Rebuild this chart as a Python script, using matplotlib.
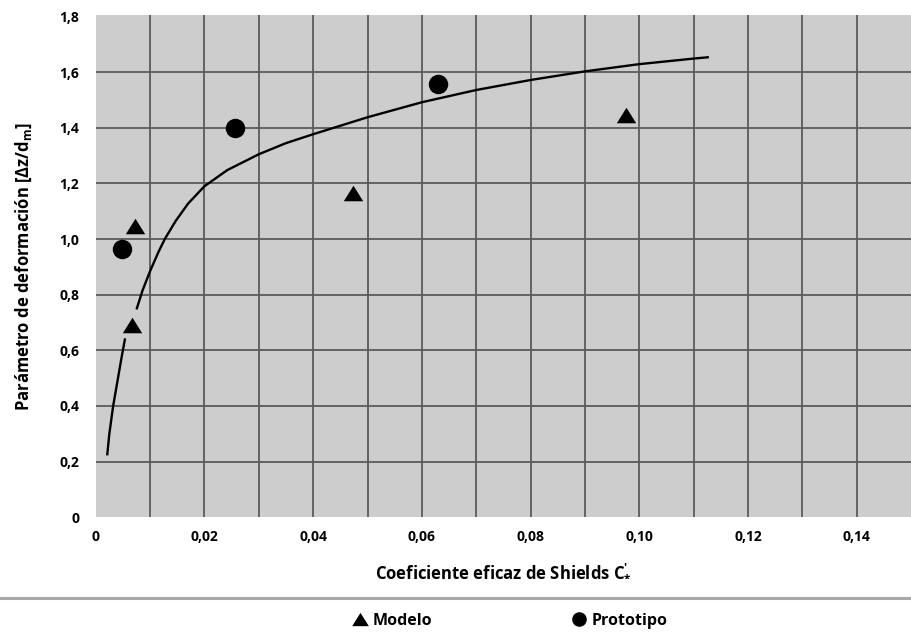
import matplotlib
matplotlib.use("Agg")
import matplotlib.pyplot as plt
from matplotlib.lines import Line2D

plt.rcParams["font.family"] = ["Open Sans", "DejaVu Sans"]
plt.rcParams["font.weight"] = "bold"
plt.rcParams["axes.labelweight"] = "bold"
plt.rcParams["mathtext.fontset"] = "custom"
plt.rcParams["mathtext.rm"] = "Open Sans:bold"
plt.rcParams["mathtext.it"] = "Open Sans:bold"
plt.rcParams["mathtext.bf"] = "Open Sans:bold"

modelo_x = [0.0072, 0.0066, 0.0473, 0.0976]
modelo_y = [1.046, 0.69, 1.167, 1.447]
proto_x = [0.0048, 0.0257, 0.0630]
proto_y = [0.963, 1.40, 1.557]

# fitted curve (nan = gap where the line stops at the marker)
nan = float("nan")
curve_x = [0.0021, 0.0025, 0.0032, 0.0040, 0.0048, 0.0054, nan,
           0.0075, 0.0086, 0.0100, 0.0115, 0.0127, 0.0147, 0.0170, 0.0200,
           0.0242, 0.0300, 0.0350, 0.0400, 0.0500, 0.0600, 0.0700, 0.0800,
           0.0900, 0.1000, 0.1100, 0.1128]
curve_y = [0.222, 0.300, 0.400, 0.490, 0.580, 0.643, nan,
           0.747, 0.815, 0.885, 0.952, 1.000, 1.065, 1.128, 1.190,
           1.248, 1.305, 1.345, 1.377, 1.438, 1.492, 1.536, 1.572,
           1.603, 1.629, 1.649, 1.654]

xticks = [0, 0.02, 0.04, 0.06, 0.08, 0.10, 0.12, 0.14]
xticklabels = ["0", "0,02", "0,04", "0,06", "0,08", "0,10", "0,12", "0,14"]
yticks = [0, 0.2, 0.4, 0.6, 0.8, 1.0, 1.2, 1.4, 1.6, 1.8]
yticklabels = ["0", "0,2", "0,4", "0,6", "0,8", "1,0", "1,2", "1,4", "1,6", "1,8"]

BG = "#cdcdcd"
TRI = [(-1, -0.8), (1, -0.8), (0, 0.8)]

fig = plt.figure(figsize=(9.12, 6.33), dpi=100)
ax = fig.add_axes([0.105, 0.183, 0.894, 0.793])
ax.set_facecolor(BG)
for s in ax.spines.values():
    s.set_visible(False)

ax.set_xlim(0, 0.15)
ax.set_ylim(0, 1.805)

for gx in [0.01 * i for i in range(1, 15)]:
    ax.axvline(gx, color="#5a5a5a", lw=1.3, zorder=1)
for gy in [0.2 * i for i in range(1, 9)]:
    ax.axhline(gy, color="#5a5a5a", lw=1.3, zorder=1)

ax.plot(curve_x, curve_y, color="black", lw=1.7, zorder=2, solid_capstyle="butt")
ax.plot(modelo_x, modelo_y, ls="none", marker=TRI, color="black", ms=14, mew=0, zorder=3)
ax.plot(proto_x, proto_y, "o", color="black", ms=14, mew=0, zorder=3)

ax.set_xticks(xticks)
ax.set_xticklabels(xticklabels)
ax.set_yticks(yticks)
ax.set_yticklabels(yticklabels)
ax.tick_params(length=0, labelsize=10, pad=9)
ax.tick_params(axis="y", pad=12)

ax.set_xlabel("Coeficiente eficaz de Shields C$^{\\prime}_{*}$", fontsize=12, labelpad=13)
ax.set_ylabel("Parámetro de deformación [Δz/d$_{\\mathregular{m}}$]", fontsize=12, labelpad=18)

fig.add_artist(Line2D([0, 1], [1 - 598 / 633, 1 - 598 / 633], color="#a8a8a8", lw=2.2,
                      transform=fig.transFigure))

handles = [Line2D([], [], ls="none", marker=TRI, color="black", ms=12, mew=0),
           Line2D([], [], ls="none", marker="o", color="black", ms=10.5, mew=0)]
fig.legend(handles, ["Modelo", "Prototipo"], ncol=2, loc="center",
           bbox_to_anchor=(0.558, 1 - 621 / 633), frameon=False, fontsize=11.5,
           columnspacing=8.6, handletextpad=0.2, handlelength=1.2)

fig.savefig("out.png", dpi=100)
